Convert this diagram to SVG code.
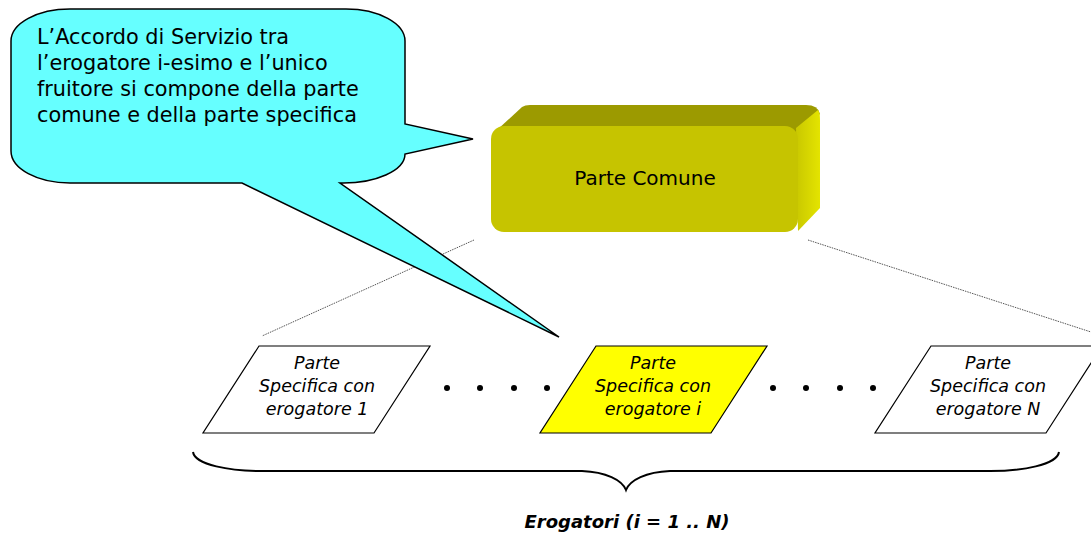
<svg xmlns="http://www.w3.org/2000/svg" width="1091" height="536" viewBox="0 0 1091 536">
<style>
.t{font-family:"DejaVu Sans","Liberation Sans",sans-serif;fill:#000}
.call{font-size:20.8px}
.ps{font-size:17.5px;font-style:italic;text-anchor:middle}
.para{stroke:#000;stroke-width:1.2}
.dot{stroke:#555;stroke-width:1;stroke-dasharray:1.5 1;fill:none}
</style>
<defs>
<linearGradient id="side" x1="0" y1="0" x2="1" y2="0">
<stop offset="0" stop-color="#C9C800"/>
<stop offset="1" stop-color="#E4E400"/>
</linearGradient>
</defs>
<g id="connectors">
<line class="dot" x1="474" y1="240" x2="262" y2="336"/>
<line class="dot" x1="808" y1="240" x2="1091" y2="332"/>
<path d="M193,452 C195,465 230,471 262,471 L582,471 C606,472 622,480 626,490 C630,480 646,472 670,471 L990,471 C1022,471 1057,465 1059,452" fill="none" stroke="#000" stroke-width="2"/>
<g fill="#000">
<circle cx="447" cy="388" r="3"/><circle cx="480" cy="388" r="3"/><circle cx="514" cy="388" r="3"/><circle cx="547" cy="388" r="3"/>
<circle cx="773" cy="388" r="3"/><circle cx="806" cy="388" r="3"/><circle cx="840" cy="388" r="3"/><circle cx="873" cy="388" r="3"/>
</g>
</g>
<g id="parte-comune">
<path d="M497,130 L522,107 Q525,105 530,105 L806,105 Q818,105 820,114 L798,134 Z" fill="#9C9A00"/>
<path d="M796,128 L818,110 Q820,112 820,120 L820,208 L798,231 Z" fill="url(#side)"/>
<rect x="491" y="126" width="307" height="106" rx="13" fill="#C6C400"/>
<text class="t" x="645" y="185" font-size="20" text-anchor="middle">Parte Comune</text>
</g>
<g id="ps1">
<polygon class="para" points="259,346 430,346 374,433 203,433" fill="#fff"/>
<text class="t ps" x="317" y="369">Parte</text>
<text class="t ps" x="317" y="392">Specifica con</text>
<text class="t ps" x="317" y="415">erogatore 1</text>
</g>
<g id="psi">
<polygon class="para" points="596,346 767,346 711,433 540,433" fill="#FFFF00"/>
<text class="t ps" x="653" y="369">Parte</text>
<text class="t ps" x="653" y="392">Specifica con</text>
<text class="t ps" x="653" y="415">erogatore i</text>
</g>
<g id="psN">
<polygon class="para" points="931,346 1102,346 1046,433 875,433" fill="#fff"/>
<text class="t ps" x="988" y="369">Parte</text>
<text class="t ps" x="988" y="392">Specifica con</text>
<text class="t ps" x="988" y="415">erogatore N</text>
</g>
<g id="callout">
<path d="M70,9 L346,9 A59,32 0 0 1 405,41 L405,124 L473,139 L405,154 A62,29 0 0 1 340,183 L559,337 L242,183 L70,183 A59,32 0 0 1 11,151 L11,41 A59,32 0 0 1 70,9 Z" fill="#66FFFF" stroke="#000" stroke-width="1.5" stroke-linejoin="miter"/>
<text class="t call" x="37" y="44">L’Accordo di Servizio tra</text>
<text class="t call" x="37" y="70">l’erogatore i-esimo e l’unico</text>
<text class="t call" x="37" y="96">fruitore si compone della parte</text>
<text class="t call" x="37" y="122">comune e della parte specifica</text>
</g>
<g id="label">
<text class="t" x="627" y="528" font-size="18" font-weight="bold" font-style="italic" text-anchor="middle">Erogatori (i = 1 .. N)</text>
</g>
</svg>
